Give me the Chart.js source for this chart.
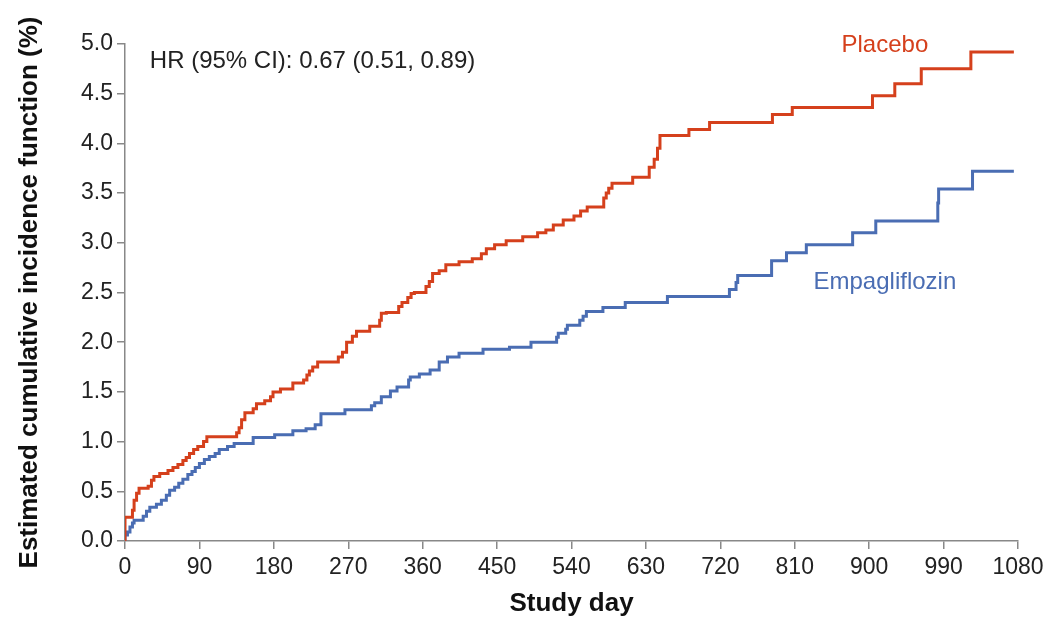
<!DOCTYPE html>
<html>
<head>
<meta charset="utf-8">
<script src="https://cdn.jsdelivr.net/npm/chart.js@4"></script>
<style>
html,body{margin:0;padding:0;background:#fff;}
#wrap{width:1050px;height:625px;}
</style>
</head>
<body>
<div id="wrap"><canvas id="c" width="1050" height="625"></canvas></div>
<script>
const xTicks = [0, 90, 180, 270, 360, 450, 540, 630, 720, 810, 900, 990, 1080];
const yTicks = [0, 0.5, 1.0, 1.5, 2.0, 2.5, 3.0, 3.5, 4.0, 4.5, 5.0];

const placeboDays = [0, 0, 9, 11, 14, 17, 28, 32, 35, 42, 52, 58, 64, 70, 74, 78, 83, 88, 95, 99,
  135, 138, 141, 145, 155, 159, 169, 176, 179, 188, 203, 216, 220, 223, 227, 233,
  258, 263, 268, 275, 280, 296, 308, 310, 316, 331, 335, 342, 346, 350, 364, 368, 372, 380, 388,
  404, 420, 431, 437, 447, 461, 481, 499, 509, 518, 530, 543, 551, 559, 579, 582, 585, 589,
  614, 634, 640, 644, 647, 682, 707, 783, 807, 904, 931, 963, 1023, 1075];
const placeboValues = [0, 0.24, 0.31, 0.41, 0.48, 0.53, 0.55, 0.61, 0.65, 0.68, 0.71, 0.74, 0.77, 0.81, 0.84, 0.88, 0.92, 0.95, 1.00, 1.05,
  1.09, 1.14, 1.22, 1.29, 1.33, 1.38, 1.41, 1.45, 1.50, 1.53, 1.59, 1.62, 1.67, 1.71, 1.75, 1.80,
  1.85, 1.90, 2.00, 2.06, 2.11, 2.16, 2.22, 2.29, 2.30, 2.36, 2.40, 2.45, 2.49, 2.50, 2.56, 2.61, 2.69, 2.72, 2.78,
  2.81, 2.84, 2.89, 2.94, 2.98, 3.02, 3.06, 3.10, 3.13, 3.18, 3.23, 3.27, 3.32, 3.36, 3.45, 3.50, 3.55, 3.60,
  3.66, 3.76, 3.84, 3.95, 4.08, 4.14, 4.21, 4.29, 4.36, 4.48, 4.60, 4.75, 4.92, 4.92];

const empaDays = [0, 0, 3, 6, 9, 11, 22, 26, 30, 38, 44, 50, 54, 60, 65, 70, 76, 81, 85, 90, 96, 102, 109, 114, 124, 132,
  155, 181, 203, 219, 230, 237, 266, 298, 302, 310, 321, 329, 343, 345, 356, 369, 380, 390, 404, 433, 465, 491,
  522, 524, 533, 535, 550, 554, 558, 578, 605, 656, 731, 739, 741, 782, 800, 824, 880, 908, 983, 984, 1025, 1075];
const empaValues = [0, 0.06, 0.09, 0.14, 0.18, 0.21, 0.25, 0.30, 0.34, 0.37, 0.41, 0.46, 0.51, 0.54, 0.58, 0.62, 0.67, 0.70, 0.74, 0.78, 0.82, 0.85, 0.88, 0.92, 0.95, 0.98,
  1.04, 1.07, 1.11, 1.13, 1.17, 1.28, 1.32, 1.36, 1.39, 1.45, 1.51, 1.55, 1.62, 1.65, 1.68, 1.72, 1.80, 1.85, 1.89, 1.93, 1.95, 2.00,
  2.05, 2.09, 2.13, 2.17, 2.22, 2.26, 2.31, 2.35, 2.40, 2.46, 2.53, 2.60, 2.67, 2.82, 2.90, 2.98, 3.10, 3.22, 3.40, 3.54, 3.72, 3.72];

const seriesNames = ['Placebo', 'Empagliflozin'];
const hrText = 'HR (95% CI): 0.67 (0.51, 0.89)';

const RED = '#D5401C';
const BLUE = '#4A6DB3';
const FONT = '"Liberation Sans", Arial, sans-serif';

function toXY(xs, ys) { return xs.map((x, i) => ({x: x, y: ys[i]})); }

const labelsPlugin = {
  id: 'labelsPlugin',
  afterDatasetsDraw(chart) {
    const ctx = chart.ctx;
    const xs = chart.scales.x, ys = chart.scales.y;
    ctx.save();
    ctx.font = '24px ' + FONT;
    ctx.textBaseline = 'middle';
    ctx.fillStyle = '#222';
    ctx.textAlign = 'left';
    ctx.fillText(hrText, xs.getPixelForValue(30), ys.getPixelForValue(4.83));
    ctx.textAlign = 'center';
    ctx.fillStyle = RED;
    ctx.fillText(seriesNames[0], xs.getPixelForValue(919), ys.getPixelForValue(4.99));
    ctx.fillStyle = BLUE;
    ctx.fillText(seriesNames[1], xs.getPixelForValue(919), ys.getPixelForValue(2.6));
    ctx.restore();
  }
};

new Chart(document.getElementById('c'), {
  type: 'line',
  data: {
    datasets: [
      {label: seriesNames[0], data: toXY(placeboDays, placeboValues), borderColor: RED, borderWidth: 3, stepped: true, pointRadius: 0, fill: false},
      {label: seriesNames[1], data: toXY(empaDays, empaValues), borderColor: BLUE, borderWidth: 3, stepped: true, pointRadius: 0, fill: false}
    ]
  },
  options: {
    responsive: false,
    animation: false,
    layout: {padding: {top: 44, right: 32, left: 10, bottom: 2}},
    plugins: {legend: {display: false}, tooltip: {enabled: false}},
    scales: {
      x: {
        type: 'linear', min: 0, max: 1080,
        afterBuildTicks(s) { s.ticks = xTicks.map(v => ({value: v})); },
        ticks: {font: {size: 23, family: FONT}, color: '#222', padding: 5, maxRotation: 0, autoSkip: false, callback: v => String(v)},
        grid: {display: true, drawOnChartArea: false, drawTicks: true, tickLength: 8, color: '#888', lineWidth: 1.5},
        border: {display: true, color: '#888', width: 1.5},
        title: {display: true, text: 'Study day', font: {size: 26, weight: 'bold', family: FONT}, color: '#111', padding: {top: 16}},
        afterFit(s) { s.height = 82; }
      },
      y: {
        type: 'linear', min: 0, max: 5,
        afterBuildTicks(s) { s.ticks = yTicks.map(v => ({value: v})); },
        ticks: {font: {size: 23, family: FONT}, color: '#222', padding: 4, callback: v => Number(v).toFixed(1)},
        grid: {display: true, drawOnChartArea: false, drawTicks: true, tickLength: 8, color: '#888', lineWidth: 1.5},
        border: {display: true, color: '#888', width: 1.5},
        title: {display: true, text: 'Estimated cumulative incidence function (%)', font: {size: 26, weight: 'bold', family: FONT}, color: '#111', padding: {bottom: 6}},
        afterFit(s) { s.width = 115; }
      }
    }
  },
  plugins: [labelsPlugin]
});
</script>
</body>
</html>
